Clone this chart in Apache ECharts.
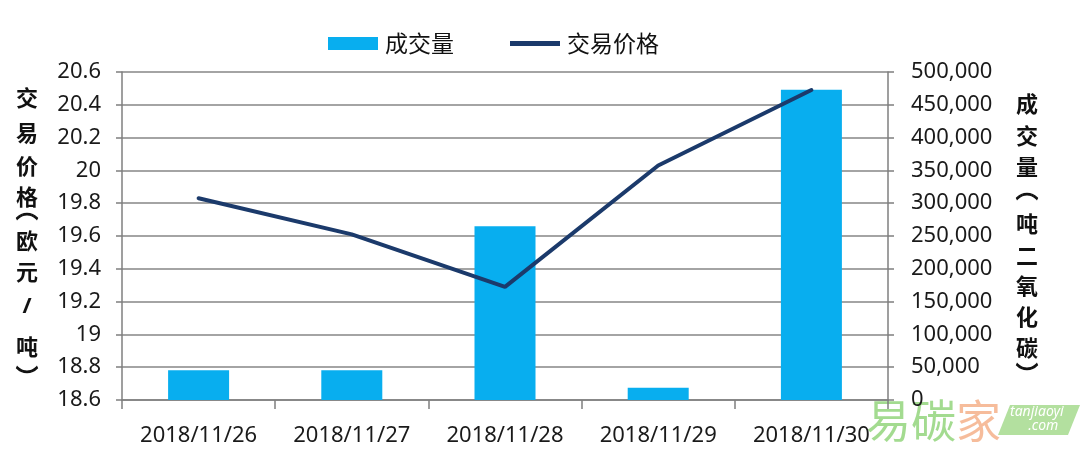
<!DOCTYPE html>
<html><head><meta charset="utf-8">
<script src="https://cdn.jsdelivr.net/npm/echarts@6/dist/echarts.min.js"></script>
<style>html,body{margin:0;padding:0;background:#fff}#c{width:1080px;height:452px}</style>
</head><body><div id="c"></div>
<script>
const categories = ['2018/11/26','2018/11/27','2018/11/28','2018/11/29','2018/11/30'];
const volume = [45500, 45500, 265000, 18700, 473000];
const price = [19.83, 19.61, 19.29, 20.03, 20.49];
const leftName = ['交','易','价','格','︵','欧','元','/','吨','︶'];
const rightName = ['成','交','量','︵','吨','二','氧','化','碳','︶'];

const font = "'Noto Sans', 'Noto Sans CJK SC', sans-serif";
const cjk = "'Noto Sans CJK SC', sans-serif";

// layout: visual centre y of each character of the axis names
const leftY = [98, 133, 166, 197, 216, 241, 272, 307, 347, 369];
const rightY = [104, 136, 167, 196, 224, 256, 286, 317, 348, 366];
const nameSize = 22;

function verticalName(chars, cx, ys) {
  return chars.map((ch, i) => {
    let y = ys[i];
    const paren = ch === '︵' || ch === '︶';
    if (ch === '︵') y -= 0.32 * nameSize;
    if (ch === '︶') y += 0.33 * nameSize;
    return {
      type: 'text', x: cx, y: y,
      style: {text: ch, fontSize: nameSize, fontWeight: paren ? 'normal' : 'bold', fill: '#111',
        stroke: paren ? '#111' : null, lineWidth: paren ? 1.2 : 0,
        fontFamily: ch === '/' ? font : cjk, align: 'center', verticalAlign: 'middle'}
    };
  });
}

const chart = echarts.init(document.getElementById('c'));
chart.setOption({
  animation: false,
  backgroundColor: '#fff',
  legend: {
    top: 27, left: 323, itemGap: 56, itemWidth: 50, itemHeight: 13,
    textStyle: {fontSize: 23, color: '#111', fontFamily: cjk, padding: [0, 0, 0, 2]},
    data: [{name: '成交量', icon: 'rect'}, {name: '交易价格', icon: 'path://M0,0 L10,0 L10,1 L0,1 Z'}]
  },
  grid: {left: 122, right: 192, top: 72, bottom: 52},
  xAxis: {
    type: 'category', data: categories,
    axisLine: {lineStyle: {color: '#7f7f7f', width: 1.5}},
    axisTick: {show: true, length: 9, lineStyle: {color: '#7f7f7f', width: 1.5}},
    axisLabel: {fontSize: 22, color: '#1a1a1a', margin: 25, fontFamily: font, interval: 0}
  },
  yAxis: [{
    type: 'value', min: 18.6, max: 20.6, interval: 0.2, position: 'left',
    axisLine: {show: true, lineStyle: {color: '#7f7f7f', width: 1.5}},
    axisTick: {show: true, length: 6, lineStyle: {color: '#7f7f7f', width: 1.5}},
    splitLine: {lineStyle: {color: '#868686', width: 1.6}},
    axisLabel: {fontSize: 22, color: '#1a1a1a', margin: 21, fontFamily: font,
      formatter: v => String(parseFloat(v.toFixed(1)))}
  }, {
    type: 'value', min: 0, max: 500000, interval: 50000, position: 'right',
    axisLine: {show: true, lineStyle: {color: '#7f7f7f', width: 1.5}},
    axisTick: {show: true, length: 6, lineStyle: {color: '#7f7f7f', width: 1.5}},
    splitLine: {show: false},
    axisLabel: {fontSize: 22, color: '#1a1a1a', margin: 23, fontFamily: font,
      formatter: v => v.toLocaleString('en-US')}
  }],
  series: [{
    name: '成交量', type: 'bar', yAxisIndex: 1, data: volume, barWidth: 61,
    itemStyle: {color: '#08AEEF'}
  }, {
    name: '交易价格', type: 'line', yAxisIndex: 0, data: price,
    symbol: 'none', lineStyle: {color: '#1B3A6B', width: 4, cap: 'round'},
    itemStyle: {color: '#1B3A6B'}
  }],
  graphic: [
    ...verticalName(leftName, 27, leftY),
    ...verticalName(rightName, 1027, rightY),
    {type: 'text', left: 866, top: 398, style: {text: '易碳', fontSize: 45, fill: '#93d57c', fontFamily: cjk, opacity: 0.85}},
    {type: 'text', left: 956, top: 398, style: {text: '家', fontSize: 45, fill: '#f4b08a', fontFamily: cjk, opacity: 0.85}},
    {type: 'polygon', shape: {points: [[1010,405],[1080,405],[1068,435],[998,435]]}, style: {fill: '#a6da8e', opacity: 0.85}},
    {type: 'text', left: 1010, top: 405, style: {text: 'tanjiaoyi\n     .com', fontSize: 14, fill: '#fff', fontStyle: 'italic', fontFamily: font, lineHeight: 14}}
  ]
});
</script></body></html>
